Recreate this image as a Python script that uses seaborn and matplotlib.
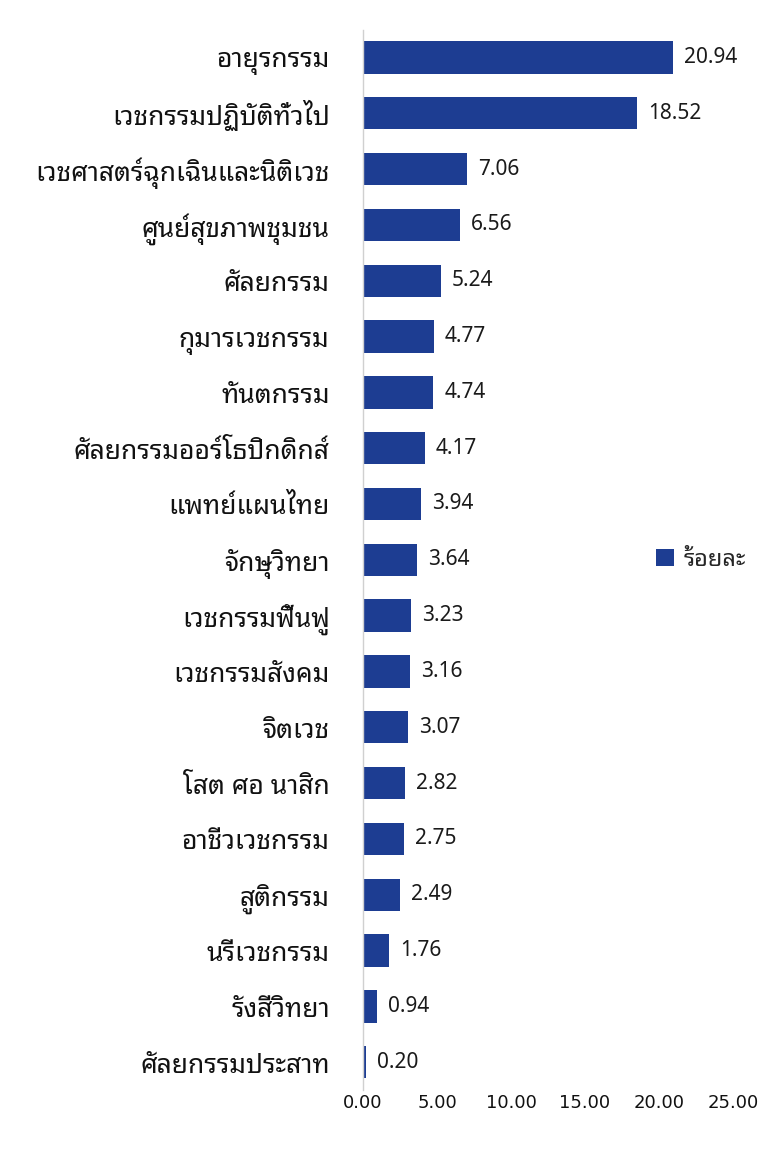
import matplotlib
matplotlib.use('Agg')
import matplotlib.pyplot as plt
import seaborn as sns
import pandas as pd

# specialties and percentages
specialties = [
    'อายุรกรรม', 'เวชกรรมปฏิบัติทั่วไป', 'เวชศาสตร์ฉุกเฉินและนิติเวช', 'ศูนย์สุขภาพชุมชน',
    'ศัลยกรรม', 'กุมารเวชกรรม', 'ทันตกรรม', 'ศัลยกรรมออร์โธปิกดิกส์', 'แพทย์แผนไทย',
    'จักษุวิทยา', 'เวชกรรมฟื้นฟู', 'เวชกรรมสังคม', 'จิตเวช', 'โสต ศอ นาสิก',
    'อาชีวเวชกรรม', 'สูติกรรม', 'นรีเวชกรรม', 'รังสีวิทยา', 'ศัลยกรรมประสาท',
]
percent = [20.94, 18.52, 7.06, 6.56, 5.24, 4.77, 4.74, 4.17, 3.94, 3.64,
           3.23, 3.16, 3.07, 2.82, 2.75, 2.49, 1.76, 0.94, 0.20]
series_name = 'ร้อยละ'
x_ticks = [0, 5, 10, 15, 20, 25]

df = pd.DataFrame({'specialty': specialties, 'value': percent, 'series': series_name})

sns.set_theme(style='white')
plt.rcParams['font.family'] = ['Noto Sans Thai Looped', 'DejaVu Sans']

bar_color = '#1d3d92'
fig = plt.figure(figsize=(7.65, 11.59), dpi=100)
ax = fig.add_axes([0.4745, 0.0595, 0.4835, 0.915])

sns.barplot(data=df, x='value', y='specialty', hue='series', palette=[bar_color],
            width=0.58, ax=ax, saturation=1, edgecolor=bar_color, linewidth=0)

for i, v in enumerate(percent):
    ax.text(v + 0.75, i, f'{v:.2f}', va='center', ha='left', fontsize=15, color='#1a1a1a')

ax.set_xlim(0, 25)
ax.set_xticks(x_ticks)
ax.set_xticklabels([f'{t:.2f}' for t in x_ticks], fontsize=13, family='DejaVu Sans', color='#111111')
ax.tick_params(axis='y', labelsize=19, length=0, pad=24, labelcolor='#111111')
ax.tick_params(axis='x', length=0, pad=3)
for lbl in ax.get_yticklabels():
    lbl.set_fontweight('semibold')
ax.set_xlabel('')
ax.set_ylabel('')

for s in ['top', 'right', 'bottom']:
    ax.spines[s].set_visible(False)
ax.spines['left'].set_color('#d0d0d0')
ax.spines['left'].set_linewidth(1.0)

leg = ax.legend(loc='center left', bbox_to_anchor=(0.735, 0.5), frameon=False,
                fontsize=17, handlelength=0.75, handleheight=0.75, handletextpad=0.4)
for t in leg.get_texts():
    t.set_fontweight('semibold')

fig.savefig('out.png', dpi=100)
